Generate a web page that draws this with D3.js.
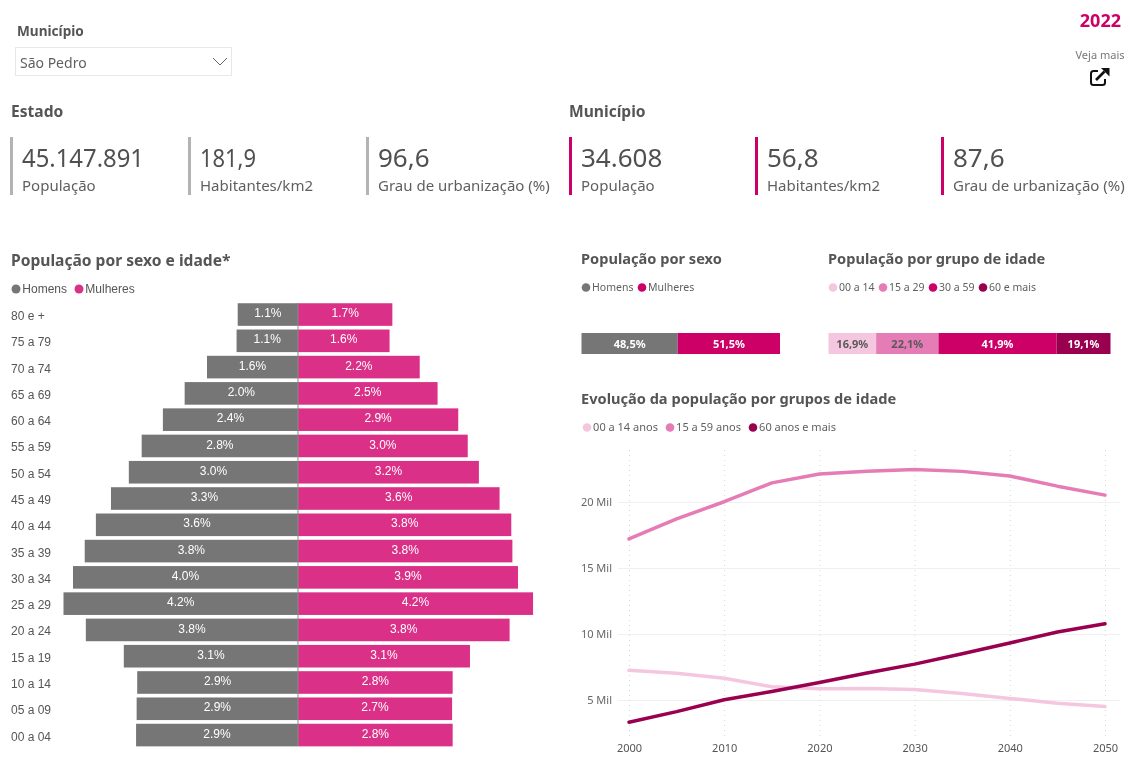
<!DOCTYPE html>
<html lang="pt-BR">
<head>
<meta charset="utf-8">
<title>População - São Pedro</title>
<script src="https://cdn.jsdelivr.net/npm/d3@7"></script>
<style>
html,body{margin:0;padding:0;background:#fff;overflow:hidden}
svg{display:block;font-family:"Noto Sans","Open Sans",sans-serif}
.pyr{font-family:"Liberation Sans",Arial,sans-serif}
</style>
</head>
<body>
<div id="chart"></div>
<script>
// ---- data ----
const ageGroups = ["80 e +","75 a 79","70 a 74","65 a 69","60 a 64","55 a 59","50 a 54","45 a 49","40 a 44","35 a 39","30 a 34","25 a 29","20 a 24","15 a 19","10 a 14","05 a 09","00 a 04"];
const menValues   = [1.08,1.10,1.63,2.03,2.42,2.80,3.03,3.35,3.62,3.82,4.03,4.20,3.80,3.12,2.88,2.89,2.90];
const womenValues = [1.69,1.64,2.18,2.50,2.87,3.04,3.24,3.61,3.82,3.84,3.94,4.21,3.79,3.08,2.77,2.76,2.77];
const menLabels   = ["1.1%","1.1%","1.6%","2.0%","2.4%","2.8%","3.0%","3.3%","3.6%","3.8%","4.0%","4.2%","3.8%","3.1%","2.9%","2.9%","2.9%"];
const womenLabels = ["1.7%","1.6%","2.2%","2.5%","2.9%","3.0%","3.2%","3.6%","3.8%","3.8%","3.9%","4.2%","3.8%","3.1%","2.8%","2.7%","2.8%"];

const sexNames = ["Homens","Mulheres"];
const sexShares = [48.5,51.5];
const ageShareNames = ["00 a 14","15 a 29","30 a 59","60 e mais"];
const ageShares = [16.9,22.1,41.9,19.1];

const years = [2000,2005,2010,2015,2020,2025,2030,2035,2040,2045,2050];
const yearTicks = [2000,2010,2020,2030,2040,2050];
const popTicks = [5,10,15,20];
const lineNames = ["00 a 14 anos","15 a 59 anos","60 anos e mais"];
const young = [7.25,7.02,6.65,6.00,5.85,5.88,5.80,5.50,5.12,4.75,4.50];
const adult = [17.2,18.72,20.02,21.45,22.12,22.33,22.47,22.32,21.97,21.2,20.52];
const older = [3.32,4.12,5.02,5.65,6.32,7.05,7.72,8.50,9.32,10.15,10.78];

const stateKpiValues = ["45.147.891","181,9","96,6"];
const cityKpiValues = ["34.608","56,8","87,6"];
const kpiLabels = ["População","Habitantes/km2","Grau de urbanização (%)"];

// ---- styles ----
const cGray="#767676", cPyrPink="#DB3087", cMag="#CC0066", cLight="#F5C6E0", cMid="#E57CB5", cDark="#99004F";
const cTitle="#555555", cText="#5f5f5f";

const svg = d3.select("#chart").append("svg").attr("width",1125).attr("height",761)
  .style("filter","blur(0.35px)");

function txt(x,y,s,size,fill,weight,anchor,cls){
  const t = svg.append("text").attr("x",x).attr("y",y).text(s)
    .attr("font-size",size).attr("fill",fill).attr("font-weight",weight||400)
    .attr("text-anchor",anchor||"start");
  if(cls) t.attr("class",cls);
  return t;
}

// ---- header ----
txt(17,36,"Município",13.6,cTitle,700);
svg.append("rect").attr("x",15.5).attr("y",47.5).attr("width",216).attr("height",28).attr("fill","#fff").attr("stroke","#e8e8e8");
txt(20,68,"São Pedro",14,cText);
svg.append("path").attr("d",d3.line()([[213,58],[220,65],[227,58]])).attr("fill","none").attr("stroke","#666").attr("stroke-width",1);
txt(1121,27,"2022",18,cMag,700,"end");
txt(1100,59,"Veja mais",11,"#777",400,"middle");
const icon = svg.append("g").attr("transform","translate(1090,68)");
icon.append("path").attr("d","M8 3 H3.5 Q1 3 1 5.5 V14.5 Q1 17 3.5 17 H12.5 Q15 17 15 14.5 V11").attr("fill","none").attr("stroke","#111").attr("stroke-width",2);
icon.append("path").attr("d","M6 12 L14.5 3.5").attr("stroke","#111").attr("stroke-width",2.6).attr("fill","none");
icon.append("path").attr("d","M11 0 H19.5 V8.5 Z").attr("fill","#111");

// ---- KPI cards ----
txt(11,117,"Estado",15.6,cTitle,700);
txt(569,117,"Município",15.6,cTitle,700);
function kpis(vals,xs,color,fitWidths){
  vals.forEach((v,i)=>{
    svg.append("rect").attr("x",xs[i]).attr("y",137).attr("width",3).attr("height",58).attr("fill",color);
    const t = txt(xs[i]+12,167,v,26,"#505050");
    if(fitWidths[i]) t.attr("textLength",fitWidths[i]).attr("lengthAdjust","spacingAndGlyphs");
    txt(xs[i]+12,191,kpiLabels[i],15,cText);
  });
}
kpis(stateKpiValues,[10,188,366],"#b3b3b3",[122,56,0]);
kpis(cityKpiValues,[569,755,941],cMag,[0,0,0]);

// ---- legends ----
function legend(items,colors,xs,y,r,size,cls,fill){
  items.forEach((s,i)=>{
    svg.append("circle").attr("cx",xs[i]).attr("cy",y).attr("r",r).attr("fill",colors[i]);
    txt(xs[i]+r+1.8,y+size*0.36,s,size,fill||cText,400,"start",cls);
  });
}

// ---- pyramid ----
txt(11,266,"População por sexo e idade*",15.6,cTitle,700);
legend(sexNames,[cGray,cPyrPink],[16,79],289,4.5,12,"pyr","#555");
const yPyr = d3.scaleBand().domain(ageGroups).range([301.4,748.2]).paddingInner(0.14).paddingOuter(0.07);
const wPyr = d3.scaleLinear().domain([0,4.2]).range([0,234.5]);
const xMid = 298;
const rows = ageGroups.map((a,i)=>({a,m:menValues[i],w:womenValues[i],ml:menLabels[i],wl:womenLabels[i]}));
const gP = svg.append("g").attr("class","pyr");
gP.selectAll("rect.m").data(rows).join("rect").attr("class","m")
  .attr("x",d=>xMid-wPyr(d.m)).attr("y",d=>yPyr(d.a)).attr("width",d=>wPyr(d.m)).attr("height",yPyr.bandwidth()).attr("fill",cGray);
gP.selectAll("rect.w").data(rows).join("rect").attr("class","w")
  .attr("x",xMid).attr("y",d=>yPyr(d.a)).attr("width",d=>wPyr(d.w)).attr("height",yPyr.bandwidth()).attr("fill",cPyrPink);
gP.append("line").attr("x1",xMid).attr("x2",xMid).attr("y1",303).attr("y2",746).attr("stroke","#8a8a8a").attr("stroke-width",1);
gP.selectAll("text.ml").data(rows).join("text").attr("class","ml")
  .attr("x",d=>xMid-wPyr(d.m)/2).attr("y",d=>yPyr(d.a)+yPyr.bandwidth()/2+2.6).attr("text-anchor","middle")
  .attr("font-size",12).attr("fill","#fff").text(d=>d.ml);
gP.selectAll("text.wl").data(rows).join("text").attr("class","wl")
  .attr("x",d=>xMid+wPyr(d.w)/2).attr("y",d=>yPyr(d.a)+yPyr.bandwidth()/2+2.6).attr("text-anchor","middle")
  .attr("font-size",12).attr("fill","#fff").text(d=>d.wl);
gP.selectAll("text.age").data(rows).join("text").attr("class","age")
  .attr("x",11).attr("y",d=>yPyr(d.a)+yPyr.bandwidth()/2+5.5)
  .attr("font-size",12).attr("fill","#555").text(d=>d.a);

// ---- stacked bars ----
function stacked(names,vals,colors,labelColors,x0,x1){
  const x = d3.scaleLinear().domain([0,d3.sum(vals)]).range([x0,x1]);
  const series = d3.stack().keys(names)([Object.fromEntries(names.map((n,i)=>[n,vals[i]]))]);
  series.forEach((s,i)=>{
    const a=s[0][0], b=s[0][1];
    svg.append("rect").attr("x",x(a)).attr("y",333).attr("width",x(b)-x(a)).attr("height",21).attr("fill",colors[i]);
    txt((x(a)+x(b))/2,348,d3.format(".1f")(vals[i]).replace(".",",")+"%",11,labelColors[i],700,"middle");
  });
}
txt(581,264,"População por sexo",14.6,cTitle,700);
legend(sexNames,[cGray,cMag],[586,642],287.5,4.3,10.5);
stacked(sexNames,sexShares,[cGray,cMag],["#fff","#fff"],581.5,780);
txt(828,264,"População por grupo de idade",14.6,cTitle,700);
legend(ageShareNames,[cLight,cMid,cMag,cDark],[833,883,933,983],287.5,4.3,10.5);
stacked(ageShareNames,ageShares,[cLight,cMid,cMag,cDark],["#5a5a5a","#5a5a5a","#fff","#fff"],828.5,1110.5);

// ---- line chart ----
txt(581,404,"Evolução da população por grupos de idade",14.6,cTitle,700);
legend(lineNames,[cLight,cMid,cDark],[587,670,753],427.5,4.3,11);
const x = d3.scaleLinear().domain([2000,2050]).range([629,1105]);
const y = d3.scaleLinear().domain([5,20]).range([700,502]);
const gridH = svg.append("g").attr("transform","translate(618,0)")
  .call(d3.axisLeft(y).tickValues(popTicks).tickSize(-502).tickPadding(6).tickFormat(d=>d+" Mil"));
gridH.select(".domain").remove();
gridH.selectAll(".tick line").attr("stroke","#f0f0f0");
gridH.selectAll(".tick text").attr("font-size",11).attr("fill","#666").attr("font-family",'"Noto Sans",sans-serif').attr("dy","0.32em");
const gridV = svg.append("g").attr("transform","translate(0,736)")
  .call(d3.axisBottom(x).tickValues(yearTicks).tickSize(-286).tickPadding(8).tickFormat(d3.format("d")));
gridV.select(".domain").remove();
gridV.selectAll(".tick line").attr("stroke","#d8d8d8").attr("stroke-dasharray","1 4");
gridV.selectAll(".tick text").attr("font-size",11).attr("fill","#555").attr("font-family",'"Noto Sans",sans-serif');
const line = d3.line().x((d,i)=>x(years[i])).y(d=>y(d)).curve(d3.curveLinear);
[[young,cLight],[adult,cMid],[older,cDark]].forEach(([vals,c])=>{
  svg.append("path").attr("d",line(vals)).attr("fill","none").attr("stroke",c).attr("stroke-width",3.5).attr("stroke-linecap","round").attr("stroke-linejoin","round");
});
</script>
</body>
</html>
